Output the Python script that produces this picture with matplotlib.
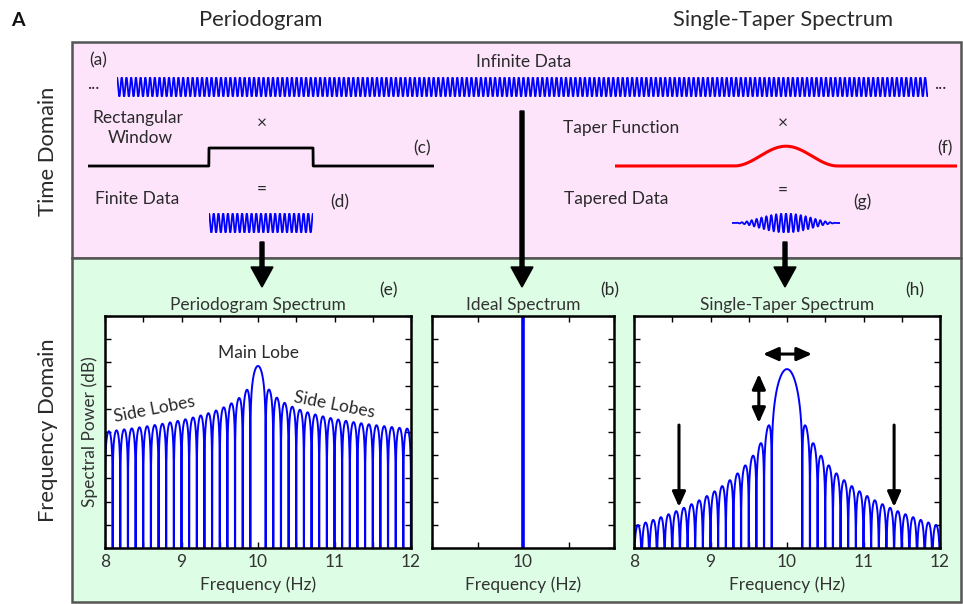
import numpy as np
import matplotlib.pyplot as plt
from matplotlib.patches import Rectangle, FancyArrow

plt.rcParams['font.family'] = ['Lato', 'DejaVu Sans']

W, H = 963, 604

# test signal behind the spectra
f0 = 10.0            # Hz
fs = 100.0           # Hz
T = 10.0             # s, length of the data window
df = 0.0025          # Hz, frequency grid step (divides 1/T, so nulls land on grid)

# axis settings
freq_lim = [8, 12]
freq_ticks = [8, 8.5, 9, 9.5, 10, 10.5, 11, 11.5, 12]
freq_labels = ['8', '', '9', '', '10', '', '11', '', '12']
ideal_lim = [9.5, 10.5]
ideal_ticks = [9.5, 9.75, 10, 10.25, 10.5]
ideal_labels = ['', '', '10', '', '']
db_lim = [-102, 28]

# time-domain sketch (time measured in window lengths)
cycles_per_window = 22
infinite_span = [0, 7.8]
window_span = [0, 1]
col_xlim_left = [-1.163, 2.163]
col_xlim_right = [-1.144, 2.144]

BLUE = '#0000ff'
TXT = '#2a2a2a'
FS_BIG = 15.8
FS_SMALL = 12.5


def px_axes(x0, y0, x1, y1):
    return fig.add_axes([x0 / W, 1 - y1 / H, (x1 - x0) / W, (y1 - y0) / H])


def power_spectrum(taper):
    # direct DTFT on the plotting grid
    kernel = np.exp(-2j * np.pi * np.outer(f_plot, t))
    X = kernel @ (x * taper)
    return np.abs(X) ** 2 / np.sum(taper ** 2)


# spectra
t = np.arange(0, T, 1 / fs)
x = np.cos(2 * np.pi * f0 * t)
f_plot = np.arange(freq_lim[0], freq_lim[1] + df / 2, df)
rect_taper = np.ones_like(t)
hann_taper = 0.5 - 0.5 * np.cos(2 * np.pi * np.arange(len(t)) / len(t))
s_rect = power_spectrum(rect_taper)
s_hann = power_spectrum(hann_taper)
ref = s_rect.max()
db_rect = 10 * np.log10(s_rect / ref + 1e-30)
db_hann = 10 * np.log10(s_hann / ref + 1e-30)

fig = plt.figure(figsize=(W / 100, H / 100), dpi=100)

# background: the two domain boxes, headings and arrows
bg = fig.add_axes([0, 0, 1, 1])
bg.set_xlim(0, W)
bg.set_ylim(H, 0)
bg.axis('off')
bg.add_patch(Rectangle((72, 42), 889, 216, fc='#fde4fb', ec='#555555', lw=1.8))
bg.add_patch(Rectangle((72, 258), 889, 344, fc='#ddfde5', ec='#555555', lw=1.8))

bg.text(18, 20, 'A', fontsize=14, fontweight='bold', ha='center', va='center', color='#111')
bg.text(261, 20, 'Periodogram', fontsize=FS_BIG, ha='center', va='center', color=TXT)
bg.text(783, 20, 'Single-Taper Spectrum', fontsize=FS_BIG, ha='center', va='center', color=TXT)
bg.text(48, 151, 'Time Domain', fontsize=FS_BIG, rotation=90, ha='center', va='center', color=TXT)
bg.text(48, 430, 'Frequency Domain', fontsize=FS_BIG, rotation=90, ha='center', va='center', color=TXT)

small = dict(fontsize=FS_SMALL, ha='center', va='center', color=TXT)
bg.text(98, 60, '(a)', **small)
bg.text(524, 62, 'Infinite Data', **small)
bg.text(93, 84, '...', **small)
bg.text(940, 84, '...', **small)
bg.text(138, 118, 'Rectangular', **small)
bg.text(140, 138, 'Window', **small)
bg.text(262, 123, '×', **small)
bg.text(422, 148, '(c)', **small)
bg.text(262, 189, '=', **small)
bg.text(137, 199, 'Finite Data', **small)
bg.text(340, 202, '(d)', **small)
bg.text(621, 128, 'Taper Function', **small)
bg.text(783, 123, '×', **small)
bg.text(945, 148, '(f)', **small)
bg.text(783, 190, '=', **small)
bg.text(616, 199, 'Tapered Data', **small)
bg.text(862, 202, '(g)', **small)

for ax_x, y_start in [(262, 242), (522, 111), (785, 242)]:
    bg.add_patch(FancyArrow(ax_x, y_start, 0, 287 - y_start, width=4, head_width=22,
                            head_length=20, length_includes_head=True,
                            fc='black', ec='black'))

# time-domain traces
ta = px_axes(117, 77, 928, 97)
ti = np.linspace(*infinite_span, 6000)
ta.plot(ti, np.cos(2 * np.pi * cycles_per_window * ti), color=BLUE, lw=1.3)
ta.set_xlim(infinite_span)
ta.set_ylim(-1.05, 1.05)

tw = px_axes(88, 139, 434, 175)
tt = np.linspace(col_xlim_left[0], col_xlim_left[1], 2000)
rect_win = ((tt >= window_span[0]) & (tt <= window_span[1])).astype(float)
tw.plot(tt, rect_win, color='black', lw=2.0)
tw.set_xlim(col_xlim_left)
tw.set_ylim(-0.5, 1.5)

tf = px_axes(209, 213, 313, 233)
tseg = np.linspace(*window_span, 1000)
tf.plot(tseg, np.cos(2 * np.pi * cycles_per_window * tseg), color=BLUE, lw=1.3)
tf.set_xlim(window_span)
tf.set_ylim(-1.05, 1.05)

tp = px_axes(615, 139, 957, 175)
tt2 = np.linspace(col_xlim_right[0], col_xlim_right[1], 2000)
inside = (tt2 >= 0) & (tt2 <= 1)
taper = np.where(inside, 0.5 - 0.5 * np.cos(2 * np.pi * tt2), 0.0)
tp.plot(tt2, taper * 1.1, color='red', lw=2.2)
tp.set_xlim(col_xlim_right)
tp.set_ylim(-0.5, 1.5)

tg = px_axes(732, 213, 840, 233)
tg.plot(tseg, (0.5 - 0.5 * np.cos(2 * np.pi * tseg)) * np.cos(2 * np.pi * cycles_per_window * tseg),
        color=BLUE, lw=1.3)
tg.set_xlim(window_span)
tg.set_ylim(-1.05, 1.05)

for a in (ta, tw, tf, tp, tg):
    a.axis('off')
    a.patch.set_alpha(0)


# frequency-domain panels
def style_panel(ax, xlim, ticks, labels):
    ax.set_xlim(xlim)
    ax.set_ylim(db_lim)
    ax.set_xticks(ticks)
    ax.set_xticklabels(labels)
    ax.set_yticks(np.linspace(db_lim[0], db_lim[1], 11))
    ax.set_yticklabels([])
    ax.tick_params(direction='in', top=True, right=True, length=4, width=1,
                   labelsize=FS_SMALL, labelcolor='#333', pad=4)
    for sp in ax.spines.values():
        sp.set_linewidth(1.8)
    ax.set_xlabel('Frequency (Hz)', fontsize=FS_SMALL, color='#333', labelpad=5)


p1 = px_axes(105, 316, 411, 548)
p1.plot(f_plot, db_rect, color=BLUE, lw=1.4)
style_panel(p1, freq_lim, freq_ticks, freq_labels)
p1.set_ylabel('Spectral Power (dB)', fontsize=FS_SMALL, color='#333', labelpad=1)
p1.set_title('Periodogram Spectrum', fontsize=FS_SMALL, color='#333', pad=4)
p1.text(0.5, 0.84, 'Main Lobe', transform=p1.transAxes, fontsize=FS_SMALL,
        ha='center', va='center', color=TXT)
p1.text(0.163, 0.60, 'Side Lobes', transform=p1.transAxes, fontsize=FS_SMALL,
        ha='center', va='center', rotation=11, color=TXT)
p1.text(0.75, 0.615, 'Side Lobes', transform=p1.transAxes, fontsize=FS_SMALL,
        ha='center', va='center', rotation=-11, color=TXT)

p2 = px_axes(432, 316, 614, 548)
p2.axvline(f0, color=BLUE, lw=2.6)
style_panel(p2, ideal_lim, ideal_ticks, ideal_labels)
p2.set_title('Ideal Spectrum', fontsize=FS_SMALL, color='#333', pad=4)

p3 = px_axes(634, 316, 940, 548)
p3.plot(f_plot, db_hann, color=BLUE, lw=1.4)
style_panel(p3, freq_lim, freq_ticks, freq_labels)
p3.set_title('Single-Taper Spectrum', fontsize=FS_SMALL, color='#333', pad=4)

arrow_kw = dict(color='black', lw=2.2, shrinkA=0, shrinkB=0)
p3.annotate('', xy=(0.582, 0.836), xytext=(0.4216, 0.836), xycoords='axes fraction',
            arrowprops=dict(arrowstyle='<|-|>,head_length=0.9,head_width=0.4', **arrow_kw))
p3.annotate('', xy=(0.408, 0.75), xytext=(0.408, 0.539), xycoords='axes fraction',
            arrowprops=dict(arrowstyle='<|-|>,head_length=0.9,head_width=0.4', **arrow_kw))
for fx in (0.147, 0.85):
    p3.annotate('', xy=(fx, 0.177), xytext=(fx, 0.53), xycoords='axes fraction',
                arrowprops=dict(arrowstyle='-|>,head_length=0.9,head_width=0.4', **arrow_kw))

bg.text(388, 290, '(e)', **small)
bg.text(610, 290, '(b)', **small)
bg.text(915, 290, '(h)', **small)

fig.savefig('out.png', dpi=100)
